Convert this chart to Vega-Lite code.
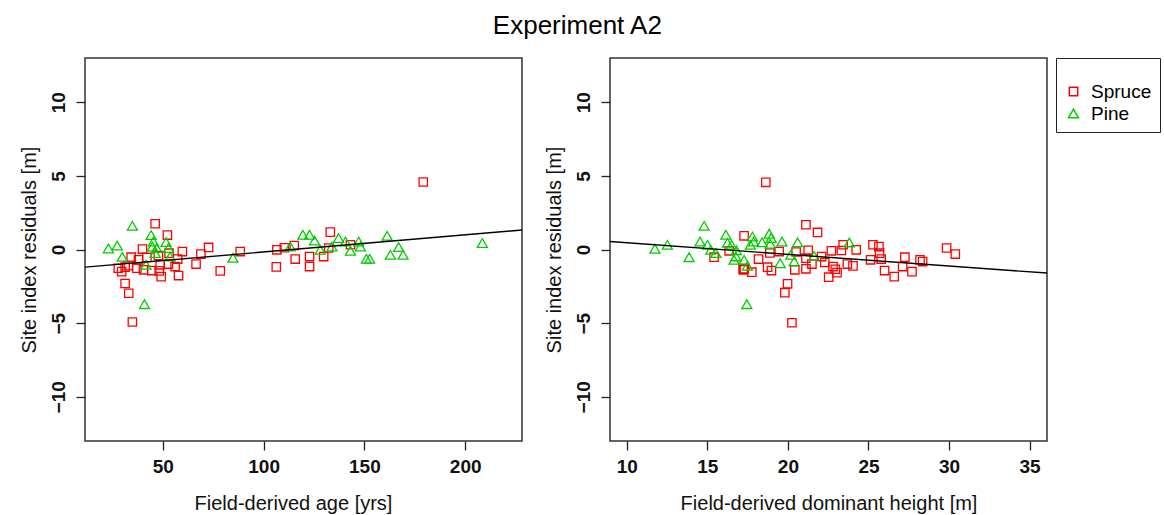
{
  "$schema": "https://vega.github.io/schema/vega-lite/v6.json",
  "padding": {"left": 18, "top": 13, "right": 0, "bottom": 0},
  "title": {"text": "Experiment A2", "fontSize": 26, "fontWeight": "normal", "font": "Liberation Sans", "color": "#000", "anchor": "middle", "offset": 18, "dx": -12},
  "config": {
    "font": "Liberation Sans",
    "view": {"stroke": "#333", "strokeWidth": 1.5},
    "axis": {"grid": false, "domain": false, "tickColor": "#222", "tickSize": 9, "tickWidth": 1.3, "labelFont": "Liberation Sans", "labelFontSize": 19, "labelFontWeight": "bold", "labelColor": "#111", "labelFlush": false, "labelOverlap": false, "titleFont": "Liberation Sans", "titleFontSize": 20, "titleFontWeight": "normal", "titleColor": "#111"},
    "axisY": {"labelAngle": -90, "labelAlign": "center", "labelBaseline": "bottom", "labelPadding": 8, "titlePadding": 10},
    "axisX": {"labelPadding": 7, "titlePadding": 17}
  },
  "datasets": {
    "ageData": [
      {"species":"Spruce","age":46.2,"res":1.75},{"species":"Spruce","age":52.3,"res":0.98},{"species":"Spruce","age":39.9,"res":0.03},{"species":"Spruce","age":59.7,"res":-0.14},{"species":"Spruce","age":72.7,"res":0.14},{"species":"Spruce","age":68.9,"res":-0.31},{"species":"Spruce","age":88.4,"res":-0.14},{"species":"Spruce","age":106.6,"res":-0.02},{"species":"Spruce","age":110.3,"res":0.12},{"species":"Spruce","age":106.3,"res":-1.18},{"species":"Spruce","age":34.3,"res":-0.52},{"species":"Spruce","age":37.9,"res":-0.70},{"species":"Spruce","age":27.9,"res":-1.27},{"species":"Spruce","age":29.6,"res":-1.50},{"species":"Spruce","age":31.3,"res":-1.20},{"species":"Spruce","age":37.1,"res":-1.27},{"species":"Spruce","age":40.4,"res":-1.38},{"species":"Spruce","age":44.5,"res":-1.43},{"species":"Spruce","age":48.7,"res":-1.04},{"species":"Spruce","age":49.2,"res":-1.84},{"species":"Spruce","age":52.8,"res":-0.99},{"species":"Spruce","age":56.1,"res":-1.16},{"species":"Spruce","age":57.8,"res":-1.77},{"species":"Spruce","age":66.5,"res":-0.99},{"species":"Spruce","age":78.5,"res":-1.45},{"species":"Spruce","age":31.3,"res":-2.31},{"species":"Spruce","age":33.1,"res":-2.97},{"species":"Spruce","age":34.9,"res":-4.92},{"species":"Spruce","age":179.2,"res":4.58},{"species":"Spruce","age":115.2,"res":0.27},{"species":"Spruce","age":115.7,"res":-0.65},{"species":"Spruce","age":122.8,"res":-0.48},{"species":"Spruce","age":122.8,"res":-1.16},{"species":"Spruce","age":133.1,"res":1.18},{"species":"Spruce","age":129.8,"res":-0.48},{"species":"Spruce","age":132.3,"res":0.10},{"species":"Spruce","age":143.1,"res":0.32},{"species":"Spruce","age":42.1,"res":-0.54},{"species":"Spruce","age":47.8,"res":-0.41},{"species":"Spruce","age":53.1,"res":-0.25},{"species":"Spruce","age":57.4,"res":-0.65},{"species":"Spruce","age":48.2,"res":-1.45},{"species":"Spruce","age":32.9,"res":-1.10},
      {"species":"Pine","age":34.9,"res":1.61},{"species":"Pine","age":23.0,"res":0.07},{"species":"Pine","age":27.4,"res":0.27},{"species":"Pine","age":29.9,"res":-0.50},{"species":"Pine","age":44.2,"res":0.98},{"species":"Pine","age":45.3,"res":0.54},{"species":"Pine","age":44.8,"res":0.20},{"species":"Pine","age":47.0,"res":0.10},{"species":"Pine","age":51.6,"res":0.50},{"species":"Pine","age":52.8,"res":0.10},{"species":"Pine","age":46.2,"res":-0.24},{"species":"Pine","age":53.6,"res":-0.48},{"species":"Pine","age":41.7,"res":-1.04},{"species":"Pine","age":40.9,"res":-3.71},{"species":"Pine","age":84.8,"res":-0.56},{"species":"Pine","age":119.5,"res":1.0},{"species":"Pine","age":122.8,"res":1.0},{"species":"Pine","age":125.3,"res":0.61},{"species":"Pine","age":128.1,"res":-0.02},{"species":"Pine","age":133.9,"res":0.20},{"species":"Pine","age":137.2,"res":0.78},{"species":"Pine","age":140.6,"res":0.54},{"species":"Pine","age":143.1,"res":-0.09},{"species":"Pine","age":147.2,"res":0.54},{"species":"Pine","age":148.0,"res":0.20},{"species":"Pine","age":161.3,"res":0.93},{"species":"Pine","age":167.0,"res":0.16},{"species":"Pine","age":162.9,"res":-0.36},{"species":"Pine","age":169.2,"res":-0.36},{"species":"Pine","age":151.0,"res":-0.63},{"species":"Pine","age":152.6,"res":-0.63},{"species":"Pine","age":208.5,"res":0.44},{"species":"Pine","age":113.2,"res":0.20}
    ],
    "heightData": [
      {"species":"Spruce","height":18.63,"res":4.56},{"species":"Spruce","height":21.12,"res":1.68},{"species":"Spruce","height":21.84,"res":1.16},{"species":"Spruce","height":17.28,"res":0.93},{"species":"Spruce","height":15.42,"res":-0.52},{"species":"Spruce","height":16.35,"res":-0.09},{"species":"Spruce","height":17.22,"res":-1.33},{"species":"Spruce","height":17.30,"res":-1.30},{"species":"Spruce","height":17.25,"res":-1.38},{"species":"Spruce","height":17.76,"res":-1.54},{"species":"Spruce","height":18.18,"res":-0.65},{"species":"Spruce","height":18.74,"res":-1.20},{"species":"Spruce","height":18.98,"res":-1.43},{"species":"Spruce","height":18.88,"res":-0.24},{"species":"Spruce","height":19.46,"res":-0.14},{"species":"Spruce","height":19.98,"res":-2.33},{"species":"Spruce","height":19.81,"res":-2.93},{"species":"Spruce","height":20.25,"res":-4.97},{"species":"Spruce","height":20.43,"res":-1.38},{"species":"Spruce","height":20.51,"res":-0.17},{"species":"Spruce","height":21.12,"res":-1.31},{"species":"Spruce","height":21.26,"res":-0.05},{"species":"Spruce","height":21.49,"res":-0.99},{"species":"Spruce","height":21.12,"res":-0.59},{"species":"Spruce","height":22.09,"res":-0.48},{"species":"Spruce","height":22.29,"res":-0.88},{"species":"Spruce","height":22.70,"res":-0.09},{"species":"Spruce","height":22.80,"res":-1.16},{"species":"Spruce","height":22.94,"res":-1.34},{"species":"Spruce","height":23.05,"res":-1.57},{"species":"Spruce","height":22.53,"res":-1.88},{"species":"Spruce","height":23.32,"res":-0.07},{"species":"Spruce","height":23.43,"res":0.32},{"species":"Spruce","height":23.69,"res":-0.99},{"species":"Spruce","height":24.04,"res":-1.11},{"species":"Spruce","height":24.24,"res":-0.02},{"species":"Spruce","height":25.13,"res":-0.70},{"species":"Spruce","height":25.28,"res":0.32},{"species":"Spruce","height":25.65,"res":0.20},{"species":"Spruce","height":25.69,"res":-0.25},{"species":"Spruce","height":25.79,"res":-0.65},{"species":"Spruce","height":26.00,"res":-1.43},{"species":"Spruce","height":26.60,"res":-1.84},{"species":"Spruce","height":27.12,"res":-1.16},{"species":"Spruce","height":27.26,"res":-0.52},{"species":"Spruce","height":27.70,"res":-1.50},{"species":"Spruce","height":28.20,"res":-0.70},{"species":"Spruce","height":28.36,"res":-0.82},{"species":"Spruce","height":29.85,"res":0.10},{"species":"Spruce","height":30.39,"res":-0.31},
      {"species":"Pine","height":11.75,"res":0.05},{"species":"Pine","height":12.52,"res":0.32},{"species":"Pine","height":13.87,"res":-0.52},{"species":"Pine","height":14.80,"res":1.61},{"species":"Pine","height":14.55,"res":0.54},{"species":"Pine","height":15.01,"res":0.32},{"species":"Pine","height":15.21,"res":-0.02},{"species":"Pine","height":15.53,"res":-0.24},{"species":"Pine","height":16.15,"res":1.00},{"species":"Pine","height":16.25,"res":0.45},{"species":"Pine","height":16.50,"res":0.32},{"species":"Pine","height":16.77,"res":-0.47},{"species":"Pine","height":16.66,"res":-0.70},{"species":"Pine","height":17.28,"res":-0.70},{"species":"Pine","height":17.45,"res":-3.71},{"species":"Pine","height":17.80,"res":0.88},{"species":"Pine","height":17.87,"res":0.54},{"species":"Pine","height":17.67,"res":0.32},{"species":"Pine","height":18.40,"res":0.49},{"species":"Pine","height":18.84,"res":1.07},{"species":"Pine","height":18.96,"res":0.78},{"species":"Pine","height":18.90,"res":0.39},{"species":"Pine","height":19.63,"res":0.54},{"species":"Pine","height":20.18,"res":-0.36},{"species":"Pine","height":20.60,"res":0.49},{"species":"Pine","height":19.52,"res":-0.93},{"species":"Pine","height":20.39,"res":-0.82},{"species":"Pine","height":21.63,"res":-0.43},{"species":"Pine","height":23.81,"res":0.48},{"species":"Pine","height":17.49,"res":-1.11},{"species":"Pine","height":16.80,"res":-0.05}
    ],
    "fitAge": [{"age":11.4,"res":-1.2},{"age":228.2,"res":1.32}],
    "fitHeight": [{"height":8.96,"res":0.54},{"height":36.08,"res":-1.6}]
  },
  "spacing": 20,
  "hconcat": [
    {
      "width": 437,
      "height": 383,
      "layer": [
        {
          "data": {"name": "ageData"},
          "mark": {"type": "point", "filled": false, "strokeWidth": 1.3, "opacity": 1},
          "encoding": {
            "x": {"field": "age", "type": "quantitative", "scale": {"domain": [11.4, 228.2], "nice": false, "zero": false}, "axis": {"values": [50, 100, 150, 200], "title": "Field-derived age [yrs]", "titleX": 208}},
            "y": {"field": "res", "type": "quantitative", "scale": {"domain": [-13, 13], "nice": false}, "axis": {"values": [-10, -5, 0, 5, 10], "title": "Site index residuals [m]"}},
            "size": {"field": "species", "type": "nominal", "scale": {"domain": ["Spruce", "Pine"], "range": [70, 100]}, "legend": null},
            "color": {"field": "species", "type": "nominal", "scale": {"domain": ["Spruce", "Pine"], "range": ["#FF0000", "#00CD00"]}, "legend": {"title": " ", "titleFontSize": 13, "titlePadding": 3, "orient": "right", "offset": 8, "strokeColor": "#222", "padding": 8, "labelFontSize": 19, "labelFont": "Liberation Sans", "labelColor": "#000", "symbolSize": 40, "symbolStrokeWidth": 1.5, "rowPadding": 2, "labelOffset": 8}},
            "shape": {"field": "species", "type": "nominal", "scale": {"domain": ["Spruce", "Pine"], "range": ["square", "triangle-up"]}, "legend": {"title": " ", "titleFontSize": 13, "titlePadding": 3, "orient": "right", "offset": 8, "strokeColor": "#222", "padding": 8, "labelFontSize": 19, "labelFont": "Liberation Sans", "labelColor": "#000", "symbolSize": 40, "symbolStrokeWidth": 1.5, "rowPadding": 2, "labelOffset": 8}}
          }
        },
        {
          "data": {"name": "fitAge"},
          "mark": {"type": "line", "color": "#000", "strokeWidth": 1.4, "clip": true},
          "encoding": {"x": {"field": "age", "type": "quantitative"}, "y": {"field": "res", "type": "quantitative"}}
        },
        {
          "mark": {"type": "rule", "color": "#0000FF", "strokeWidth": 1.6},
          "encoding": {"y": {"datum": 0}}
        }
      ]
    },
    {
      "width": 437,
      "height": 383,
      "layer": [
        {
          "data": {"name": "heightData"},
          "mark": {"type": "point", "filled": false, "strokeWidth": 1.3, "opacity": 1},
          "encoding": {
            "x": {"field": "height", "type": "quantitative", "scale": {"domain": [8.96, 36.08], "nice": false, "zero": false}, "axis": {"values": [10, 15, 20, 25, 30, 35], "title": "Field-derived dominant height [m]"}},
            "y": {"field": "res", "type": "quantitative", "scale": {"domain": [-13, 13], "nice": false}, "axis": {"values": [-10, -5, 0, 5, 10], "title": "Site index residuals [m]"}},
            "size": {"field": "species", "type": "nominal", "scale": {"domain": ["Spruce", "Pine"], "range": [70, 100]}, "legend": null},
            "color": {"field": "species", "type": "nominal", "scale": {"domain": ["Spruce", "Pine"], "range": ["#FF0000", "#00CD00"]}},
            "shape": {"field": "species", "type": "nominal", "scale": {"domain": ["Spruce", "Pine"], "range": ["square", "triangle-up"]}}
          }
        },
        {
          "data": {"name": "fitHeight"},
          "mark": {"type": "line", "color": "#000", "strokeWidth": 1.4, "clip": true},
          "encoding": {"x": {"field": "height", "type": "quantitative"}, "y": {"field": "res", "type": "quantitative"}}
        },
        {
          "mark": {"type": "rule", "color": "#0000FF", "strokeWidth": 1.6},
          "encoding": {"y": {"datum": 0}}
        }
      ]
    }
  ]
}
